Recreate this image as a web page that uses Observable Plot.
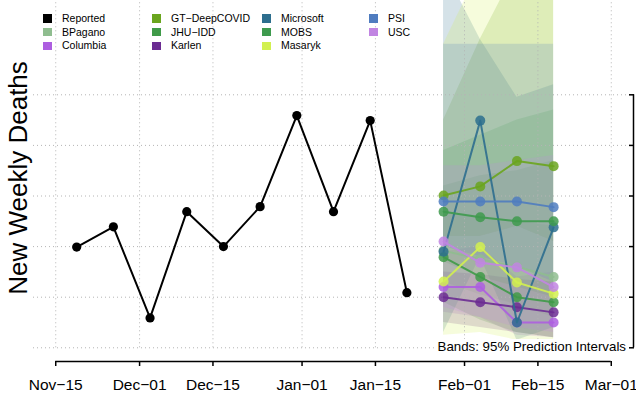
<!DOCTYPE html>
<html><head><meta charset="utf-8">
<script src="https://cdn.jsdelivr.net/npm/d3@7"></script>
<script src="https://cdn.jsdelivr.net/npm/@observablehq/plot@0.6"></script>
<style>
body{margin:0;background:#fff;font-family:"Liberation Sans",Arial,Helvetica,sans-serif;}
#wrap{position:relative;width:636px;height:399px;overflow:hidden;}
.lg{position:absolute;font-size:10.5px;color:#000;line-height:1;white-space:nowrap;}
.sw{position:absolute;width:8.5px;height:8.5px;}
#bands{position:absolute;right:9px;top:339px;font-size:13.3px;background:#fff;padding:0 1px;line-height:16px;}
</style></head><body><div id="wrap"></div>
<script>
// ---------------- data ----------------
const reportedDates = ["2020-11-19","2020-11-26","2020-12-03","2020-12-10","2020-12-17","2020-12-24","2020-12-31","2021-01-07","2021-01-14","2021-01-21"];
const reportedValues = [1990, 2390, 590, 2690, 2000, 2790, 4590, 2690, 4490, 1090];

const forecastDates = ["2021-01-28","2021-02-04","2021-02-11","2021-02-18"];
const models = ["BPagano","Columbia","GT\u2212DeepCOVID","JHU\u2212IDD","Karlen","Microsoft","MOBS","Masaryk","PSI","USC"];
const modelColors = ["#8fbd8f","#ad5ee0","#6aa51e","#3f9a48","#6b2c92","#2d6e8e","#3e9a4e","#d2f050","#4f7cbf","#c185e2"];

const pointBPagano   = [1920, 1750, 1600, 1400];
const pointColumbia  = [1200, 1200, 500, 500];
const pointGT        = [3010, 3190, 3690, 3590];
const pointJHU       = [1790, 1400, 1000, 900];
const pointKarlen    = [1000, 900, 800, 700];
const pointMicrosoft = [1900, 4490, 500, 2380];
const pointMOBS      = [2690, 2580, 2500, 2500];
const pointMasaryk   = [1310, 1990, 1290, 1070];
const pointPSI       = [2890, 2890, 2890, 2780];
const pointUSC       = [2100, 1680, 1590, 1200];

const lowBPagano   = [1300, 1050, 850, 600];   const highBPagano   = [2700, 2600, 2500, 2400];
const lowColumbia  = [700, 600, 250, 200];     const highColumbia  = [1900, 2000, 1400, 1500];
const lowGT        = [2200, 2200, 2400, 2100]; const highGT        = [4500, 6100, 7500, 7500];
const lowJHU       = [900, 550, 300, 200];     const highJHU       = [3200, 3400, 3500, 3700];
const lowKarlen    = [500, 400, 300, 200];     const highKarlen    = [1500, 1450, 1350, 1300];
const lowMicrosoft = [300, 1800, 150, 400];    const highMicrosoft = [7500, 6100, 4950, 5200];
const lowMOBS      = [1700, 1400, 1200, 1000]; const highMOBS      = [3900, 4200, 4500, 4700];
const lowMasaryk   = [250, 300, 150, 100];     const highMasaryk   = [6000, 7500, 7500, 7500];
const lowPSI       = [2000, 1800, 1600, 1300]; const highPSI       = [6000, 6000, 6000, 6000];
const lowUSC       = [800, 600, 400, 300];     const highUSC       = [3600, 3600, 3700, 3800];

const xTickDates = ["2020-11-15","2020-12-01","2020-12-15","2021-01-01","2021-01-15","2021-02-01","2021-02-15","2021-03-01"];
const xTickLabels = ["Nov\u221215","Dec\u221201","Dec\u221215","Jan\u221201","Jan\u221215","Feb\u221201","Feb\u221215","Mar\u221201"];
const yTicks = [0, 1000, 2000, 3000, 4000, 5000];

// ---------------- build tables ----------------
const points = [pointBPagano,pointColumbia,pointGT,pointJHU,pointKarlen,pointMicrosoft,pointMOBS,pointMasaryk,pointPSI,pointUSC];
const lows = [lowBPagano,lowColumbia,lowGT,lowJHU,lowKarlen,lowMicrosoft,lowMOBS,lowMasaryk,lowPSI,lowUSC];
const highs = [highBPagano,highColumbia,highGT,highJHU,highKarlen,highMicrosoft,highMOBS,highMasaryk,highPSI,highUSC];

const reported = reportedDates.map((d,i)=>({date:new Date(d), value:reportedValues[i]}));
const fc = [];
models.forEach((m,k)=>forecastDates.forEach((d,i)=>fc.push({model:m, date:new Date(d), value:points[k][i], lo:lows[k][i], hi:highs[k][i]})));

const tickDates = xTickDates.map(d=>new Date(d));
const labelMap = new Map(tickDates.map((d,i)=>[+d, xTickLabels[i]]));
const span = tickDates[tickDates.length-1] - tickDates[0];
const xDomain = [new Date(+tickDates[0] - 0.04*span), new Date(+tickDates[tickDates.length-1] + 0.04*span)];
const yDomain = [-271, 6864];

const grid = {stroke:"#b4b4b4", strokeDasharray:"1,3", strokeWidth:1};

const marks = [
  Plot.areaY(fc, {x:"date", y1:"lo", y2:"hi", z:"model", fill:"model", fillOpacity:0.2, clip:true}),
  Plot.ruleY(yTicks, {...grid}),
  Plot.ruleX(tickDates, {y1:0, y2:yDomain[1], ...grid}),
  Plot.line(reported, {x:"date", y:"value", stroke:"#000", strokeWidth:2}),
  Plot.dot(reported, {x:"date", y:"value", r:4.6, fill:"#000"})
];
models.forEach(m=>{
  const rows = fc.filter(d=>d.model===m);
  marks.push(Plot.line(rows, {x:"date", y:"value", stroke:"model", strokeWidth:2, strokeOpacity:0.9}));
  marks.push(Plot.dot(rows, {x:"date", y:"value", r:5, fill:"model", fillOpacity:0.85}));
});
marks.push(
  Plot.ruleY([yDomain[0]], {x1:tickDates[0], x2:tickDates[tickDates.length-1], stroke:"#000", strokeWidth:1.5}),
  Plot.axisX(tickDates, {tickSize:5, tickPadding:12, fontSize:15.5, tickFormat:d=>labelMap.get(+d), stroke:"#000", strokeWidth:1.5}),
  Plot.ruleX([xDomain[1]], {y1:yTicks[0], y2:yTicks[yTicks.length-1], stroke:"#000", strokeWidth:1.5}),
  Plot.axisY(yTicks, {anchor:"right", tickSize:-5, tickFormat:()=>"", stroke:"#000", strokeWidth:1.5})
);

const chart = Plot.plot({
  width:636, height:399,
  marginLeft:33, marginRight:3, marginTop:0, marginBottom:38,
  style:{fontFamily:'"Liberation Sans",Arial,Helvetica,sans-serif', background:"#fff", color:"#000"},
  x:{type:"utc", domain:xDomain, label:null},
  y:{domain:yDomain, label:null},
  color:{domain:models, range:modelColors},
  marks
});
const wrap = document.getElementById("wrap");
wrap.appendChild(chart);

d3.select(chart).append("text")
  .attr("transform","translate(27,178) rotate(-90)")
  .attr("text-anchor","middle")
  .attr("font-size",26)
  .attr("fill","#000")
  .text("New Weekly Deaths");

// legend (column-major, 3 rows)
const legendNames = ["Reported", ...models];
const legendColors = ["#000", ...modelColors];
const colText = [62, 171, 281, 388];
const rowY = [18.5, 32.2, 45.9];
legendNames.forEach((n,i)=>{
  const c = Math.floor(i/3), r = i%3;
  const sw = document.createElement("div");
  sw.className="sw"; sw.style.left=(colText[c]-19)+"px"; sw.style.top=(rowY[r]-4.25)+"px"; sw.style.background=legendColors[i];
  wrap.appendChild(sw);
  const t = document.createElement("div");
  t.className="lg"; t.style.left=colText[c]+"px"; t.style.top=(rowY[r]-5.5)+"px"; t.textContent=n;
  wrap.appendChild(t);
});
const b = document.createElement("div");
b.id="bands"; b.textContent="Bands: 95% Prediction Intervals";
wrap.appendChild(b);
</script>
</body></html>
